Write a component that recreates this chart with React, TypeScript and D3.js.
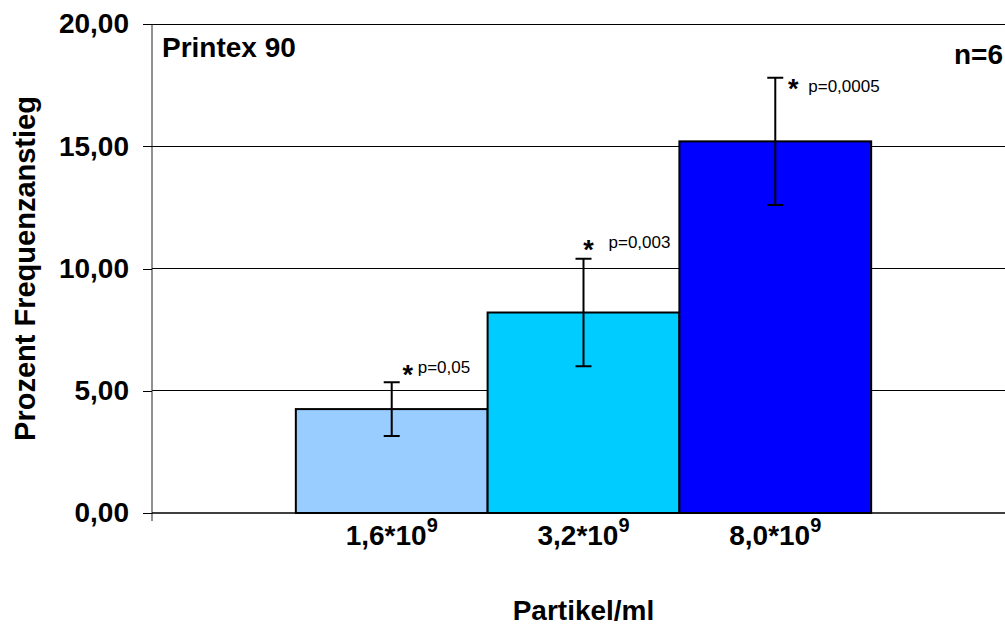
import * as d3 from 'd3';
import React, { useRef, useEffect } from 'react';

// values
const doses = ['1,6', '3,2', '8,0'];
const means = [4.25, 8.2, 15.2];
const errors = [1.1, 2.2, 2.6];
const pLabels = ['p=0,05', 'p=0,003', 'p=0,0005'];
const starValues = [5.8, 10.9, 17.5]; // where the "*" sits, in y units
const yTicks = [0, 5, 10, 15, 20];
const barColors = ['#99CCFF', '#00CCFF', '#0000FF'];

const FONT = "Arial, 'Liberation Sans', sans-serif";

export default function App() {
  const svgRef = useRef<SVGSVGElement>(null);

  useEffect(() => {
    const svg = d3.select(svgRef.current);
    svg.selectAll('*').remove();

    const left = 152, right = 1015, top = 24, bottom = 513;

    const y = d3.scaleLinear().domain([0, 20]).range([bottom, top]);

    // one category, three series side by side
    const outer = d3.scaleBand().domain(['Printex 90']).range([left, right]).paddingOuter(0.25).paddingInner(0);
    const x = d3.scaleBand()
                .domain(doses)
                .range([outer('Printex 90')!, outer('Printex 90')! + outer.bandwidth()])
                .padding(0);

    // gridlines
    svg.append('g')
       .selectAll('line')
       .data(yTicks.filter(d => d > 0))
       .join('line')
       .attr('x1', left).attr('x2', 1005)
       .attr('y1', d => y(d)).attr('y2', d => y(d))
       .attr('stroke', '#000').attr('stroke-width', 1)
       .attr('shape-rendering', 'crispEdges');

    // y axis
    const yAxis = d3.axisLeft(y)
                    .tickValues(yTicks)
                    .tickSize(9)
                    .tickPadding(14)
                    .tickFormat(d => d3.format('.2f')(d as number).replace('.', ','));

    const gy = svg.append('g')
       .attr('transform', `translate(${left},0)`)
       .call(yAxis);
    gy.select('.domain').attr('stroke', '#222').attr('d', `M0,${top}V${bottom + 8}`);
    gy.selectAll('.tick line').attr('stroke', '#000').attr('shape-rendering', 'crispEdges');
    gy.selectAll('text')
      .attr('font-family', FONT)
      .attr('font-size', '28px')
      .attr('font-weight', 'bold')
      .attr('fill', '#000');

    // bars
    svg.append('g')
       .selectAll('rect')
       .data(means)
       .join('rect')
       .attr('x', (d, i) => x(doses[i])!)
       .attr('y', d => y(d))
       .attr('width', x.bandwidth())
       .attr('height', d => y(0) - y(d))
       .attr('fill', (d, i) => barColors[i])
       .attr('stroke', '#000')
       .attr('stroke-width', 2);

    // x axis line
    svg.append('line')
       .attr('x1', left).attr('x2', 1005)
       .attr('y1', y(0)).attr('y2', y(0))
       .attr('stroke', '#000').attr('stroke-width', 1.5);

    // error bars
    const eb = svg.append('g').attr('stroke', '#000').attr('stroke-width', 2).attr('fill', 'none');
    means.forEach((m, i) => {
      const cx = x(doses[i])! + x.bandwidth() / 2;
      const hi = y(m + errors[i]);
      const lo = y(m - errors[i]);
      eb.append('path').attr('d', `M${cx},${lo}V${hi}M${cx - 8},${hi}H${cx + 8}M${cx - 8},${lo}H${cx + 8}`);
    });

    // significance labels
    const starDx = [16, 5, 18];
    const textDx = [26, 25, 33];
    means.forEach((m, i) => {
      const cx = x(doses[i])! + x.bandwidth() / 2;
      const sy = y(starValues[i]);
      svg.append('text')
         .attr('x', cx + starDx[i]).attr('y', sy + 13)
         .attr('text-anchor', 'middle')
         .attr('font-family', FONT).attr('font-size', '27px').attr('font-weight', 'bold')
         .text('*');
      svg.append('text')
         .attr('x', cx + textDx[i]).attr('y', sy + (i === 2 ? 7 : 2))
         .attr('font-family', FONT).attr('font-size', '17px')
         .text(pLabels[i]);
    });

    // category labels
    const xl = svg.append('g')
       .selectAll('text')
       .data(doses)
       .join('text')
       .attr('x', d => x(d)! + x.bandwidth() / 2)
       .attr('y', 545)
       .attr('text-anchor', 'middle')
       .attr('font-family', FONT).attr('font-size', '28px').attr('font-weight', 'bold');
    xl.append('tspan').text(d => `${d}*10`);
    xl.append('tspan').attr('dy', -13).attr('font-size', '20px').text('9');

    // titles
    svg.append('text')
       .attr('x', 162).attr('y', 57)
       .attr('font-family', FONT).attr('font-size', '28px').attr('font-weight', 'bold')
       .text('Printex 90');
    svg.append('text')
       .attr('x', 1003).attr('y', 64)
       .attr('text-anchor', 'end')
       .attr('font-family', FONT).attr('font-size', '28px').attr('font-weight', 'bold')
       .text('n=6');
    svg.append('text')
       .attr('transform', `translate(35,${(top + bottom) / 2}) rotate(-90)`)
       .attr('text-anchor', 'middle')
       .attr('font-family', FONT).attr('font-size', '29px').attr('font-weight', 'bold')
       .text('Prozent Frequenzanstieg');
    svg.append('text')
       .attr('x', outer('Printex 90')! + outer.bandwidth() / 2).attr('y', 620)
       .attr('text-anchor', 'middle')
       .attr('font-family', FONT).attr('font-size', '28px').attr('font-weight', 'bold')
       .text('Partikel/ml');
  }, []);

  return (
    <svg
      ref={svgRef}
      width={1005}
      height={628}
      style={{ position: 'absolute', left: 0, top: 0, background: '#fff' }}
    />
  );
}
